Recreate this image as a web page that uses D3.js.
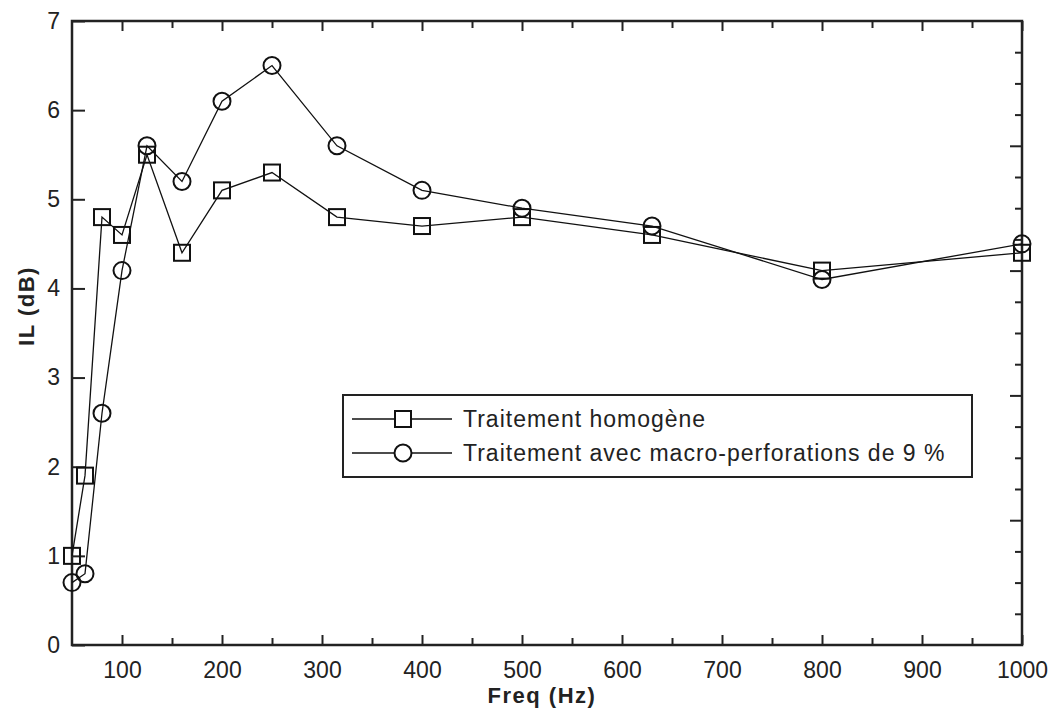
<!DOCTYPE html>
<html>
<head>
    <title>IL vs Freq</title>
    <script src="https://d3js.org/d3.v7.min.js"></script>
    <style>
        body {
            margin: 0;
            background: #fff;
            font-family: "Liberation Sans", Arial, sans-serif;
        }
        .tick text {
            font-size: 23px;
            fill: #222;
            font-family: "Liberation Sans", Arial, sans-serif;
        }
        .tick line {
            stroke: #222;
            stroke-width: 2px;
        }
    </style>
</head>
<body>
    <div id="chart"></div>
    <script>
        // Data
        const freqs = [50, 63, 80, 100, 125, 160, 200, 250, 315, 400, 500, 630, 800, 1000];
        const homogene = [1.0, 1.9, 4.8, 4.6, 5.5, 4.4, 5.1, 5.3, 4.8, 4.7, 4.8, 4.6, 4.2, 4.4];
        const perfore = [0.7, 0.8, 2.6, 4.2, 5.6, 5.2, 6.1, 6.5, 5.6, 5.1, 4.9, 4.7, 4.1, 4.5];
        const xMajor = [100, 200, 300, 400, 500, 600, 700, 800, 900, 1000];
        const xMinor = [150, 250, 350, 450, 550, 650, 750, 850, 950];
        const yMajor = [0, 1, 2, 3, 4, 5, 6, 7];
        const seriesNames = ["Traitement homogène", "Traitement avec macro-perforations de 9 %"];

        const width = 1054, height = 715;
        const plotL = 72, plotR = 1022, plotT = 21, plotB = 645;

        const svg = d3.select("#chart")
            .append("svg")
            .attr("width", width)
            .attr("height", height);

        const x = d3.scaleLinear().domain([50, 1000]).range([plotL, plotR]);
        const y = d3.scaleLinear().domain([0, 7]).range([plotB, plotT]);
        // right side ticks follow their own spacing
        const y2 = d3.scaleLinear().domain([0, 5]).range([plotB, plotT]);

        // bottom axis
        svg.append("g")
            .attr("transform", `translate(0,${plotB})`)
            .call(d3.axisBottom(x).tickValues(xMajor).tickSize(-10).tickPadding(17).tickFormat(d3.format("d")))
            .call(g => g.select(".domain").remove());
        svg.append("g")
            .attr("transform", `translate(0,${plotB})`)
            .call(d3.axisBottom(x).tickValues(xMinor).tickSize(-7).tickFormat(""))
            .call(g => g.select(".domain").remove());

        // top axis
        svg.append("g")
            .attr("transform", `translate(0,${plotT})`)
            .call(d3.axisTop(x).tickValues(xMajor).tickSize(-10).tickFormat(""))
            .call(g => g.select(".domain").remove());
        svg.append("g")
            .attr("transform", `translate(0,${plotT})`)
            .call(d3.axisTop(x).tickValues(xMinor).tickSize(-7).tickFormat(""))
            .call(g => g.select(".domain").remove());

        // left axis
        svg.append("g")
            .attr("transform", `translate(${plotL},0)`)
            .call(d3.axisLeft(y).tickValues(yMajor).tickSize(-13).tickPadding(12).tickFormat(d3.format("d")))
            .call(g => g.select(".domain").remove());

        // right axis
        svg.append("g")
            .attr("transform", `translate(${plotR},0)`)
            .call(d3.axisRight(y2).tickValues(d3.range(1, 5)).tickSize(-12).tickFormat(""))
            .call(g => g.select(".domain").remove());
        svg.append("g")
            .attr("transform", `translate(${plotR},0)`)
            .call(d3.axisRight(y2).tickValues(d3.range(0.25, 5, 0.25).filter(v => v % 1 !== 0)).tickSize(-7).tickFormat(""))
            .call(g => g.select(".domain").remove());

        // frame
        svg.append("rect")
            .attr("x", plotL)
            .attr("y", plotT)
            .attr("width", plotR - plotL)
            .attr("height", plotB - plotT)
            .attr("fill", "none")
            .attr("stroke", "#222")
            .attr("stroke-width", 2.5);

        // axis titles
        svg.append("text")
            .attr("x", (plotL + plotR) / 2 - 5)
            .attr("y", 703)
            .attr("text-anchor", "middle")
            .style("font-size", "22px")
            .style("font-weight", "bold")
            .style("letter-spacing", "1.5px")
            .style("fill", "#222")
            .text("Freq (Hz)");

        svg.append("text")
            .attr("transform", "translate(34,306) rotate(-90)")
            .attr("text-anchor", "middle")
            .style("font-size", "22px")
            .style("font-weight", "bold")
            .style("letter-spacing", "1.5px")
            .style("fill", "#222")
            .text("IL (dB)");

        const line = d3.line()
            .x(d => x(d[0]))
            .y(d => y(d[1]));

        const sq = 16, rad = 8.5;

        function drawSeries(values, marker) {
            const pts = freqs.map((f, i) => [f, values[i]]);
            svg.append("path")
                .datum(pts)
                .attr("d", line)
                .attr("fill", "none")
                .attr("stroke", "#111")
                .attr("stroke-width", 1.3);
            const g = svg.append("g");
            if (marker === "square") {
                g.selectAll("rect")
                    .data(pts)
                    .enter()
                    .append("rect")
                    .attr("x", d => x(d[0]) - sq / 2)
                    .attr("y", d => y(d[1]) - sq / 2)
                    .attr("width", sq)
                    .attr("height", sq)
                    .attr("fill", "none")
                    .attr("stroke", "#111")
                    .attr("stroke-width", 2);
            } else {
                g.selectAll("circle")
                    .data(pts)
                    .enter()
                    .append("circle")
                    .attr("cx", d => x(d[0]))
                    .attr("cy", d => y(d[1]))
                    .attr("r", rad)
                    .attr("fill", "none")
                    .attr("stroke", "#111")
                    .attr("stroke-width", 2);
            }
        }

        drawSeries(homogene, "square");
        drawSeries(perfore, "circle");

        // legend
        const legend = svg.append("g");
        legend.append("rect")
            .attr("x", 343)
            .attr("y", 395)
            .attr("width", 629)
            .attr("height", 82)
            .attr("fill", "#fff")
            .attr("stroke", "#222")
            .attr("stroke-width", 2);

        const rows = [
            { name: seriesNames[0], marker: "square", y: 419 },
            { name: seriesNames[1], marker: "circle", y: 453 }
        ];
        rows.forEach(r => {
            legend.append("line")
                .attr("x1", 352).attr("x2", 452)
                .attr("y1", r.y).attr("y2", r.y)
                .attr("stroke", "#111")
                .attr("stroke-width", 1.5);
            if (r.marker === "square") {
                legend.append("rect")
                    .attr("x", 403 - sq / 2).attr("y", r.y - sq / 2)
                    .attr("width", sq).attr("height", sq)
                    .attr("fill", "#fff")
                    .attr("stroke", "#111").attr("stroke-width", 2);
            } else {
                legend.append("circle")
                    .attr("cx", 403).attr("cy", r.y).attr("r", rad)
                    .attr("fill", "#fff")
                    .attr("stroke", "#111").attr("stroke-width", 2);
            }
            legend.append("text")
                .attr("x", 463)
                .attr("y", r.y + 8)
                .style("font-size", "23px")
                .style("letter-spacing", "1px")
                .style("fill", "#222")
                .text(r.name);
        });
    </script>
</body>
</html>
